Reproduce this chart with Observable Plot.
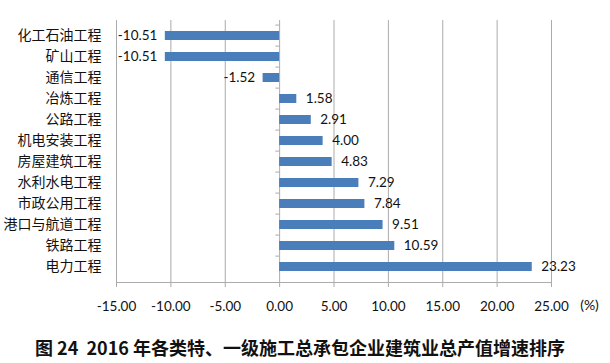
<!DOCTYPE html>
<html>
<head>
<meta charset="utf-8">
<script src="https://cdn.jsdelivr.net/npm/d3@7"></script>
<script src="https://cdn.jsdelivr.net/npm/@observablehq/plot@0.6"></script>
<style>
  html, body { margin: 0; padding: 0; background: #fff; }
  #chart svg { display: block; }
</style>
</head>
<body>
<div id="chart"></div>
<script>
const categories = ["化工石油工程","矿山工程","通信工程","冶炼工程","公路工程","机电安装工程","房屋建筑工程","水利水电工程","市政公用工程","港口与航道工程","铁路工程","电力工程"];
const values = [-10.51, -10.51, -1.52, 1.58, 2.91, 4.00, 4.83, 7.29, 7.84, 9.51, 10.59, 23.23];
const xTicks = [-15, -10, -5, 0, 5, 10, 15, 20, 25];
const unitLabel = "(%)";
const title = "图 24  2016 年各类特、一级施工总承包企业建筑业总产值增速排序";

const data = categories.map((c, i) => ({category: c, value: values[i]}));
const numFont = "Lato, 'Open Sans', sans-serif";
const cjkFont = "'Noto Sans CJK SC', sans-serif";
const grid = "#ababab";

const chart = Plot.plot({
  width: 610,
  height: 363,
  marginLeft: 116,
  marginRight: 59,
  marginTop: 20,
  marginBottom: 81,
  style: {fontFamily: numFont, background: "#fff"},
  x: {domain: [-15, 25]},
  y: {domain: categories, paddingInner: 0.59, paddingOuter: 0.295},
  marks: [
    Plot.ruleX(xTicks, {stroke: grid, strokeWidth: 1, strokeOpacity: 1}),
    Plot.frame({anchor: "bottom", stroke: grid, strokeOpacity: 1}),
    Plot.ruleY(categories, {y: d => d, x1: -0.35, x2: 0, dy: -10.9, stroke: grid}),
    Plot.barX(data, {x: "value", y: "category", fill: "#4a7ebb"}),
    Plot.text(data.filter(d => d.value < 0), {
      x: "value", y: "category",
      text: d => d.value.toFixed(2),
      textAnchor: "end", dx: -8,
      fontSize: 13.5, fill: "#111", fontFamily: numFont
    }),
    Plot.text(data.filter(d => d.value >= 0), {
      x: "value", y: "category",
      text: d => d.value.toFixed(2),
      textAnchor: "start", dx: 9,
      fontSize: 13.5, fill: "#111", fontFamily: numFont
    }),
    Plot.axisY({tickSize: 0, tickPadding: 15, fontSize: 14, fontFamily: cjkFont, fill: "#111", label: null}),
    Plot.axisX({ticks: xTicks, tickSize: 5, tickPadding: 14, tickFormat: d => d.toFixed(2), fontSize: 13.5, fill: "#111", label: null, stroke: grid, strokeOpacity: 1}),
    Plot.text([unitLabel], {frameAnchor: "bottom-right", textAnchor: "middle", lineAnchor: "middle", dx: 38, dy: 23, fontSize: 14, fill: "#111", fontFamily: numFont}),
    Plot.text([title], {frameAnchor: "bottom", textAnchor: "middle", lineAnchor: "middle", dx: -34, dy: 67, fontSize: 18, fontWeight: "bold", fill: "#111", fontFamily: cjkFont})
  ]
});
document.getElementById("chart").append(chart);
</script>
</body>
</html>
